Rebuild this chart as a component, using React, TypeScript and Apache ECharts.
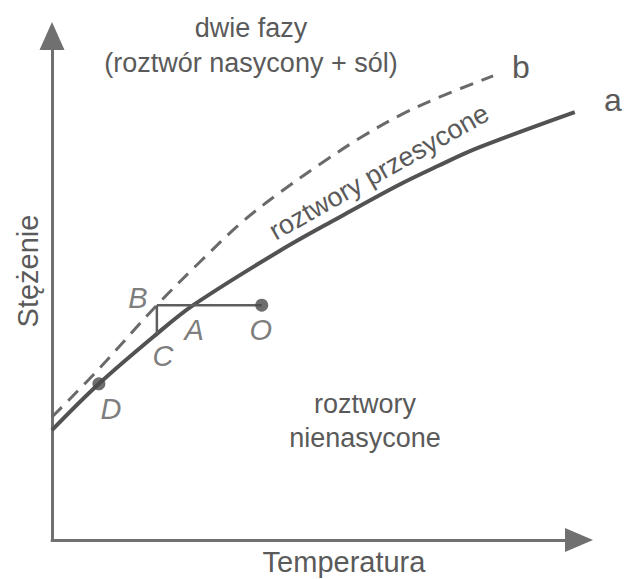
import React, { useEffect, useRef } from "react";
import * as echarts from "echarts";

// Solubility curve "a" (saturated solutions), [temperature, concentration]
const curveA: [number, number][] = [
  [0, 21.8], [8.9, 31.0], [19.9, 40.9], [26.8, 46.6], [43.1, 57.3],
  [54.3, 63.9], [65.7, 70.4], [73.2, 74.2], [80.8, 77.8], [99.2, 84.9],
];
// Supersolubility curve "b" (dashed)
const curveB: [number, number][] = [
  [0, 24.4], [8.5, 33.5], [19.9, 46.6], [28.1, 55.2], [36.1, 63.1], [43.3, 69.0],
  [50.9, 74.6], [58.5, 79.8], [66.1, 84.3], [73.6, 87.9], [83.7, 92.1],
];
// Named points
const pointNames = ["B", "A", "O", "C", "D"];
const pointX = [19.9, 26.8, 39.8, 19.9, 8.9];
const pointY = [46.6, 46.6, 46.6, 40.9, 31.0];
const dotNames = ["O", "D"];
// Cooling path O -> B and step B -> C
const pathBO: [number, number][] = [[19.9, 46.6], [39.8, 46.6]];
const pathBC: [number, number][] = [[19.9, 46.6], [19.9, 40.9]];

const FONT = '"Liberation Sans", Arial, Helvetica, sans-serif';
const TEXT = "#5a5a5a";
const labelOffsets: Record<string, [number, number]> = {
  B: [-19, -7], A: [1, 25], O: [-1, 25], C: [6, 22], D: [12, 25],
};

export default function App() {
  const ref = useRef<HTMLDivElement>(null);
  useEffect(() => {
    if (!ref.current) return;
    const chart = echarts.init(ref.current, undefined, { renderer: "svg" });
    const txt = (text: string, x: number, y: number, size: number, extra: any = {}) => ({
      type: "text",
      x,
      y,
      z: 100,
      ...extra,
      style: {
        text,
        fontSize: size,
        fontFamily: FONT,
        fill: TEXT,
        align: "center",
        verticalAlign: "middle",
      },
    });
    const axisCommon = {
      type: "value",
      min: 0,
      max: 100,
      axisTick: { show: false },
      axisLabel: { show: false },
      splitLine: { show: false },
    };
    chart.setOption({
      animation: false,
      backgroundColor: "#ffffff",
      grid: { left: 52, top: 36, width: 527, height: 504 },
      xAxis: {
        ...axisCommon,
        axisLine: {
          show: true,
          symbol: ["none", "triangle"],
          symbolSize: [24, 28],
          lineStyle: { color: "#707070", width: 3 },
        },
      },
      yAxis: {
        ...axisCommon,
        axisLine: {
          show: true,
          symbol: ["none", "triangle"],
          symbolSize: [25, 28],
          lineStyle: { color: "#707070", width: 3 },
        },
      },
      series: [
        {
          name: "a",
          type: "line",
          data: curveA,
          smooth: 0.35,
          showSymbol: false,
          lineStyle: { color: "#525252", width: 4 },
        },
        {
          name: "b",
          type: "line",
          data: curveB,
          smooth: 0.35,
          showSymbol: false,
          lineStyle: { color: "#6a6a6a", width: 3, type: [14, 9] },
        },
        {
          type: "line",
          data: pathBO,
          showSymbol: false,
          lineStyle: { color: "#5e5e5e", width: 2.5 },
        },
        {
          type: "line",
          data: pathBC,
          showSymbol: false,
          lineStyle: { color: "#5e5e5e", width: 2.5 },
        },
        {
          type: "scatter",
          z: 5,
          data: pointNames.map((n, i) => ({
            name: n,
            value: [pointX[i], pointY[i]],
            symbolSize: dotNames.includes(n) ? 13 : 1,
            itemStyle: { color: dotNames.includes(n) ? "#4a4a4a" : "rgba(0,0,0,0)" },
            label: { offset: labelOffsets[n] },
          })),
          label: {
            show: true,
            position: "inside",
            formatter: "{b}",
            fontSize: 29,
            fontStyle: "italic",
            fontFamily: FONT,
            color: TEXT,
          },
        },
      ],
      graphic: [
        txt("dwie fazy", 251, 27.6, 27),
        txt("(roztwór nasycony + sól)", 251, 62.6, 27),
        txt("roztwory przesycone", 379, 172, 27, { rotation: (29.5 * Math.PI) / 180 }),
        txt("roztwory", 365, 403.6, 27),
        txt("nienasycone", 365, 437.6, 27),
        txt("Temperatura", 344, 562, 29),
        txt("Stężenie", 28, 271, 29, { rotation: Math.PI / 2 }),
        txt("a", 613, 100, 32),
        txt("b", 521, 66.5, 32),
      ],
    });
    return () => chart.dispose();
  }, []);
  return (
    <div
      ref={ref}
      style={{ position: "fixed", left: 0, top: 0, width: 624, height: 579, background: "#fff" }}
    />
  );
}
